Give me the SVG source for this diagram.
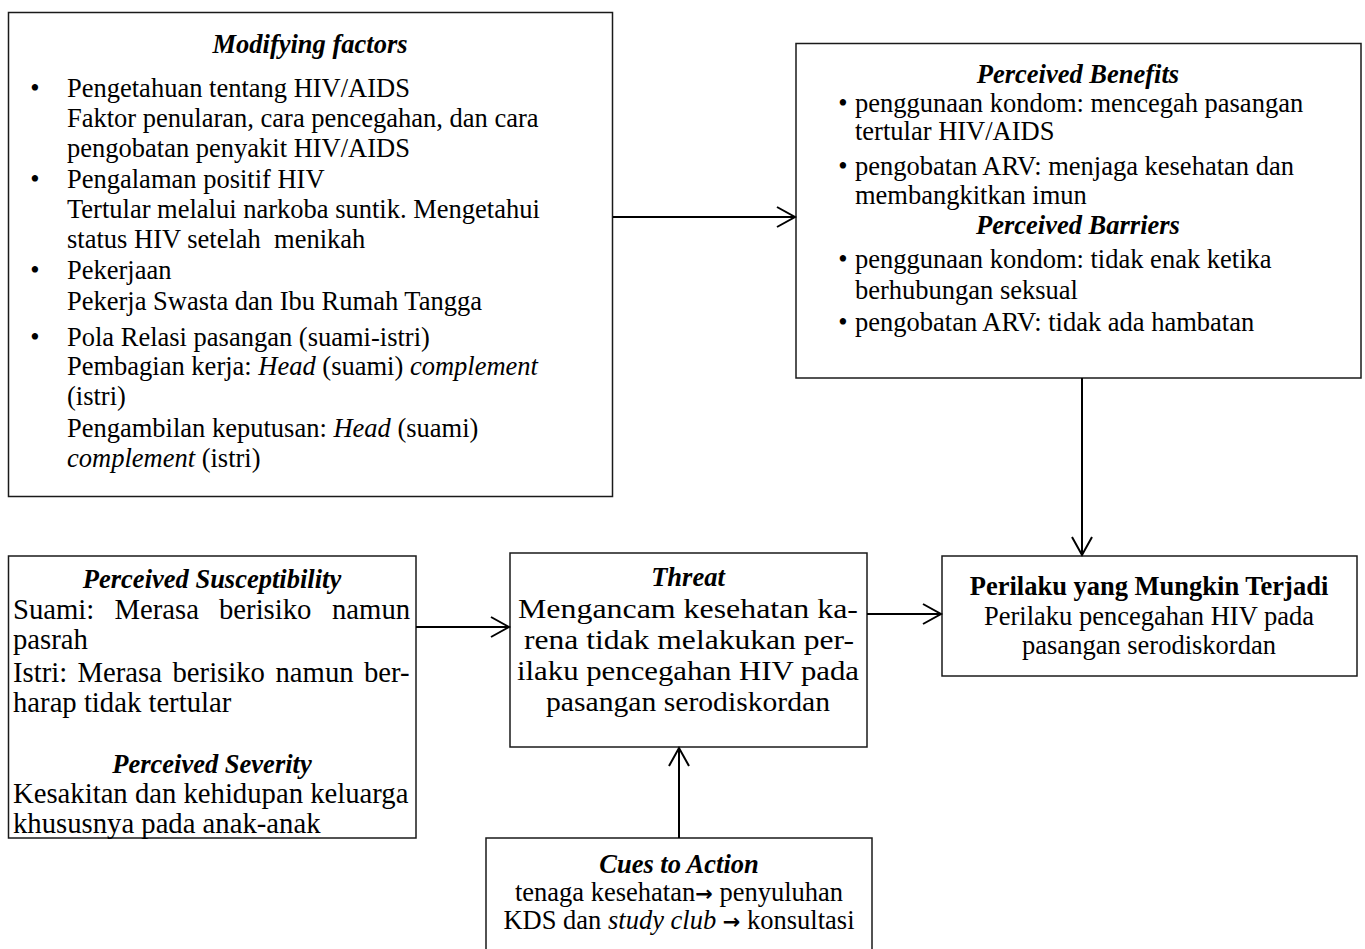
<svg xmlns="http://www.w3.org/2000/svg" width="1365" height="949" viewBox="0 0 1365 949">
<defs>
<style>
.box{fill:#fff;stroke:#1a1a1a;stroke-width:1.5}
.t{font-family:"Liberation Serif","Times New Roman",serif;font-size:26.5px;fill:#000}
.l{font-size:28.7px}
.th{font-size:27px}
.h{font-weight:bold;font-style:italic}
.b{font-weight:bold}
.i{font-style:italic}
.c{text-anchor:middle}
.ar{font-family:"DejaVu Sans",sans-serif;font-weight:bold;font-size:21px}
.conn line{stroke:#000;stroke-width:2;fill:none}
</style>
<marker id="arr" markerUnits="userSpaceOnUse" markerWidth="22" markerHeight="24" refX="19" refY="11" orient="auto">
<path d="M1,1 L19,11 L1,21" fill="none" stroke="#000" stroke-width="2"/>
</marker>
</defs>
<rect width="1365" height="949" fill="#fff"/>

<g id="modifying-factors">
<rect class="box" x="8.5" y="12.5" width="604" height="484"/>
<text class="t h c" x="310" y="53">Modifying factors</text>
<text class="t c" x="35" y="97">•</text>
<text class="t" x="67" y="97">Pengetahuan tentang HIV/AIDS</text>
<text class="t" x="67" y="127">Faktor penularan, cara pencegahan, dan cara</text>
<text class="t" x="67" y="157">pengobatan penyakit HIV/AIDS</text>
<text class="t c" x="35" y="188">•</text>
<text class="t" x="67" y="188">Pengalaman positif HIV</text>
<text class="t" x="67" y="218">Tertular melalui narkoba suntik. Mengetahui</text>
<text class="t" x="67" y="248" style="white-space:pre">status HIV setelah  menikah</text>
<text class="t c" x="35" y="279">•</text>
<text class="t" x="67" y="279">Pekerjaan</text>
<text class="t" x="67" y="310">Pekerja Swasta dan Ibu Rumah Tangga</text>
<text class="t c" x="35" y="346">•</text>
<text class="t" x="67" y="346">Pola Relasi pasangan (suami-istri)</text>
<text class="t" x="67" y="375">Pembagian kerja: <tspan class="i">Head</tspan> (suami) <tspan class="i">complement</tspan></text>
<text class="t" x="67" y="405">(istri)</text>
<text class="t" x="67" y="437">Pengambilan keputusan: <tspan class="i">Head</tspan> (suami)</text>
<text class="t" x="67" y="467"><tspan class="i">complement</tspan> (istri)</text>
</g>

<g id="perceived-benefits-barriers">
<rect class="box" x="796" y="43.5" width="565" height="334.5"/>
<text class="t h c" x="1078" y="83">Perceived Benefits</text>
<text class="t c" x="843" y="112">•</text>
<text class="t" x="855" y="112">penggunaan kondom: mencegah pasangan</text>
<text class="t" x="855" y="140">tertular HIV/AIDS</text>
<text class="t c" x="843" y="175">•</text>
<text class="t" x="855" y="175">pengobatan ARV: menjaga kesehatan dan</text>
<text class="t" x="855" y="204">membangkitkan imun</text>
<text class="t h c" x="1078" y="234">Perceived Barriers</text>
<text class="t c" x="843" y="268">•</text>
<text class="t" x="855" y="268">penggunaan kondom: tidak enak ketika</text>
<text class="t" x="855" y="299">berhubungan seksual</text>
<text class="t c" x="843" y="331">•</text>
<text class="t" x="855" y="331">pengobatan ARV: tidak ada hambatan</text>
</g>

<g id="perceived-susceptibility-severity">
<rect class="box" x="8.5" y="556" width="407.5" height="282"/>
<text class="t h c" x="212" y="588">Perceived Susceptibility</text>
<text class="t l" y="619"><tspan x="13">Suami:</tspan><tspan x="114.5">Merasa</tspan><tspan x="219">berisiko</tspan><tspan x="332">namun</tspan></text>
<text class="t l" x="13" y="649">pasrah</text>
<text class="t l" y="682"><tspan x="13">Istri:</tspan><tspan x="77.5">Merasa</tspan><tspan x="172.5">berisiko</tspan><tspan x="275.5">namun</tspan><tspan x="364">ber-</tspan></text>
<text class="t l" x="13" y="712">harap tidak tertular</text>
<text class="t h c" x="212" y="773">Perceived Severity</text>
<text class="t l" x="13" y="803">Kesakitan dan kehidupan keluarga</text>
<text class="t l" x="13" y="833">khususnya pada anak-anak</text>
</g>

<g id="threat">
<rect class="box" x="510" y="553" width="357" height="194"/>
<text class="t h c" x="688" y="586">Threat</text>
<text class="t th c" x="688" y="618" textLength="340" lengthAdjust="spacingAndGlyphs">Mengancam kesehatan ka-</text>
<text class="t th c" x="689" y="649" textLength="330" lengthAdjust="spacingAndGlyphs">rena tidak melakukan per-</text>
<text class="t th c" x="688" y="680" textLength="342" lengthAdjust="spacingAndGlyphs">ilaku pencegahan HIV pada</text>
<text class="t th c" x="688" y="711" textLength="284" lengthAdjust="spacingAndGlyphs">pasangan serodiskordan</text>
</g>

<g id="perilaku">
<rect class="box" x="942" y="556" width="415" height="120"/>
<text class="t b c" x="1149" y="595">Perilaku yang Mungkin Terjadi</text>
<text class="t c" x="1149" y="625">Perilaku pencegahan HIV pada</text>
<text class="t c" x="1149" y="654">pasangan serodiskordan</text>
</g>

<g id="cues-to-action">
<rect class="box" x="486" y="838" width="386" height="120"/>
<text class="t h c" x="679" y="873">Cues to Action</text>
<text class="t c" x="679" y="901">tenaga kesehatan<tspan class="ar">→</tspan> penyuluhan</text>
<text class="t c" x="679" y="929">KDS dan <tspan class="i">study club</tspan> <tspan class="ar">→</tspan> konsultasi</text>
</g>

<g id="connectors" class="conn">
<line x1="613" y1="217" x2="795" y2="217" marker-end="url(#arr)"/>
<line x1="1082" y1="378" x2="1082" y2="555" marker-end="url(#arr)"/>
<line x1="416" y1="627" x2="509" y2="627" marker-end="url(#arr)"/>
<line x1="867" y1="614" x2="941" y2="614" marker-end="url(#arr)"/>
<line x1="679" y1="838" x2="679" y2="748" marker-end="url(#arr)"/>
</g>
</svg>
